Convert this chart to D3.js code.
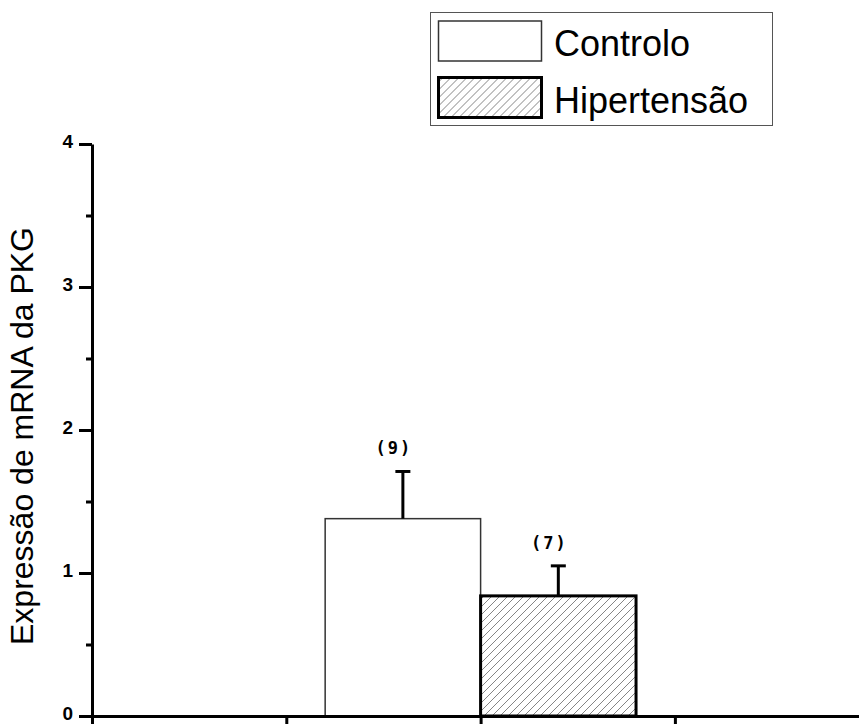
<!DOCTYPE html>
<html>
<head>
<meta charset="utf-8">
<script src="https://cdn.jsdelivr.net/npm/d3@7"></script>
<style>
  body { margin: 0; background: #fff; }
  svg { display: block; }
</style>
</head>
<body>
<div class="chart"></div>
<script>
var width = 859,
    height = 724;

// data
var groups = ["Controlo", "Hipertensão"],
    means = [1.38, 0.84],
    errors = [0.33, 0.21],
    counts = [9, 7],
    barStart = [1.2, 2],
    barEnd = [2, 2.8];

var yTicks = [0, 1, 2, 3, 4],
    yMinor = [0.5, 1.5, 2.5, 3.5],
    xTicks = [0, 1, 2, 3, 4];

var svg = d3.select(".chart").append("svg")
    .attr("width", width)
    .attr("height", height);

var defs = svg.append("defs");
defs.append("pattern")
    .attr("id", "hatch")
    .attr("patternUnits", "userSpaceOnUse")
    .attr("width", 8)
    .attr("height", 8)
  .append("path")
    .attr("d", "M0,8L8,0M-2,2L2,-2M6,10L10,6")
    .attr("stroke", "#777")
    .attr("stroke-width", 0.9);

var x = d3.scaleLinear().domain([0, 4]).range([92, 92 + 4 * 194.3]),
    y = d3.scaleLinear().domain([0, 4]).range([716, 144]);

var fills = ["#fff", "url(#hatch)"],
    strokes = ["#333", "#000"],
    strokeW = [1.5, 3];

// bars
var bars = svg.append("g").selectAll("g")
    .data(groups)
  .enter().append("g");

bars.append("rect")
    .attr("x", function(d, i) { return x(barStart[i]); })
    .attr("y", function(d, i) { return y(means[i]); })
    .attr("width", function(d, i) { return x(barEnd[i]) - x(barStart[i]); })
    .attr("height", function(d, i) { return y(0) - y(means[i]); })
    .attr("fill", function(d, i) { return fills[i]; })
    .attr("stroke", function(d, i) { return strokes[i]; })
    .attr("stroke-width", function(d, i) { return strokeW[i]; });

// error bars (upper only)
bars.append("line")
    .attr("x1", function(d, i) { return x((barStart[i] + barEnd[i]) / 2); })
    .attr("x2", function(d, i) { return x((barStart[i] + barEnd[i]) / 2); })
    .attr("y1", function(d, i) { return y(means[i]); })
    .attr("y2", function(d, i) { return y(means[i] + errors[i]); })
    .attr("stroke", "#000")
    .attr("stroke-width", 3);

bars.append("line")
    .attr("x1", function(d, i) { return x((barStart[i] + barEnd[i]) / 2) - 7.5; })
    .attr("x2", function(d, i) { return x((barStart[i] + barEnd[i]) / 2) + 7.5; })
    .attr("y1", function(d, i) { return y(means[i] + errors[i]); })
    .attr("y2", function(d, i) { return y(means[i] + errors[i]); })
    .attr("stroke", "#000")
    .attr("stroke-width", 3);

// n labels
bars.append("text")
    .attr("x", function(d, i) { return x((barStart[i] + barEnd[i]) / 2) - 9; })
    .attr("y", function(d, i) { return y(means[i] + errors[i]) - 17; })
    .attr("text-anchor", "middle")
    .style("font-family", "'DejaVu Sans Mono', monospace")
    .style("font-weight", "bold")
    .style("font-size", "17px")
    .style("letter-spacing", "2px")
    .text(function(d, i) { return "(" + counts[i] + ")"; });

// y axis
var yAxis = svg.append("g")
    .attr("transform", "translate(" + x(0) + ",0)")
    .call(d3.axisLeft(y).tickValues(yTicks).tickSize(13).tickSizeOuter(0).tickPadding(6).tickFormat(d3.format("d")));

svg.append("g")
    .attr("transform", "translate(" + x(0) + ",0)")
    .call(d3.axisLeft(y).tickValues(yMinor).tickSize(6).tickSizeOuter(0).tickFormat(""))
    .select(".domain").remove();

// x axis
svg.append("g")
    .attr("transform", "translate(0," + y(0) + ")")
    .call(d3.axisBottom(x).tickValues(xTicks).tickSize(14).tickSizeOuter(0).tickFormat(""));

svg.selectAll(".domain, .tick line")
    .attr("stroke", "#000")
    .attr("stroke-width", 3);

yAxis.selectAll(".tick text")
    .attr("dy", "0.2em")
    .style("font-family", "'Liberation Sans', Arial, sans-serif")
    .style("font-weight", "bold")
    .style("font-size", "19px")
    .style("fill", "#000");

// y title
svg.append("text")
    .attr("transform", "translate(33,436)rotate(-90)")
    .attr("text-anchor", "middle")
    .style("font-family", "'Liberation Sans', Arial, sans-serif")
    .style("font-size", "32px")
    .text("Expressão de mRNA da PKG");

// legend
var legend = svg.append("g");

legend.append("rect")
    .attr("x", 430.5)
    .attr("y", 12.5)
    .attr("width", 342)
    .attr("height", 113)
    .attr("fill", "#fff")
    .attr("stroke", "#555")
    .attr("stroke-width", 1);

var items = legend.selectAll(".item")
    .data(groups)
  .enter().append("g")
    .attr("class", "item")
    .attr("transform", function(d, i) { return "translate(0," + i * 56.5 + ")"; });

items.append("rect")
    .attr("x", 438.5)
    .attr("y", 21)
    .attr("width", 103)
    .attr("height", 40)
    .attr("fill", function(d, i) { return fills[i]; })
    .attr("stroke", function(d, i) { return strokes[i]; })
    .attr("stroke-width", function(d, i) { return strokeW[i]; });

items.append("text")
    .attr("x", 554)
    .attr("y", 56)
    .style("font-family", "'Liberation Sans', Arial, sans-serif")
    .style("font-size", "36px")
    .text(function(d) { return d; });
</script>
</body>
</html>
